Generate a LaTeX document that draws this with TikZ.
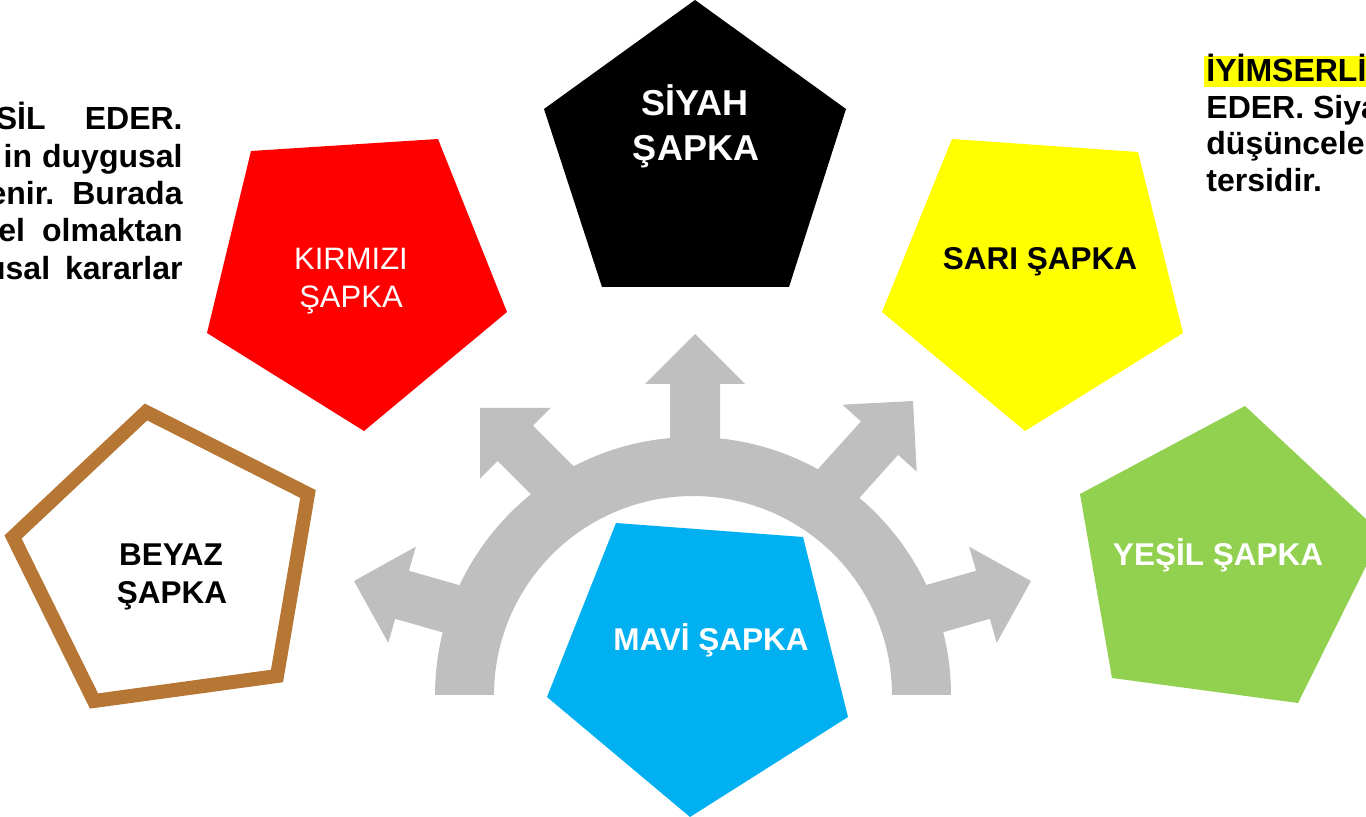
\documentclass[tikz,border=0pt]{standalone}
\usepackage{fontspec}
\setmainfont{Liberation Sans}
\definecolor{ringgray}{HTML}{BFBFBF}
\definecolor{hatred}{HTML}{FF0000}
\definecolor{hatyellow}{HTML}{FFFF00}
\definecolor{hatgreen}{HTML}{92D050}
\definecolor{hatblue}{HTML}{00B0F0}
\definecolor{hatbrown}{HTML}{B67634}
\begin{document}
\begin{tikzpicture}[x=0.5pt,y=-0.5pt,
  hattext/.style={inner sep=0pt,anchor=base,font=\bfseries\fontsize{15.75}{19}\selectfont},
  bodytext/.style={inner sep=0pt,font=\bfseries\fontsize{16}{19}\selectfont},
  hatarrow/.pic={\fill[ringgray] (0,0) -- (-50,50) -- (-50,25) -- (-150,25)
      -- (-150,-25) -- (-50,-25) -- (-50,-50) -- cycle;}]
\useasboundingbox (0,0) rectangle (1366,817);
\clip (0,0) rectangle (1366,817);

% gray half ring with its five arrows
\fill[ringgray] plot[domain=180:360,samples=91] ({693+258*cos(\x)},{695+258*sin(\x)})
  -- plot[domain=360:180,samples=91] ({693+199*cos(\x)},{695+199*sin(\x)}) -- cycle;
\pic[rotate=90]  at (695,334) {hatarrow};
\pic[rotate=135] at (480,408) {hatarrow};
\pic[rotate=48]  at (913,401) {hatarrow};
\pic[rotate=164] at (354,581) {hatarrow};
\pic[rotate=16]  at (1031,581) {hatarrow};

% the six hats
\fill[black]     (695,0) -- (846,109) -- (789,287) -- (602,287) -- (544,109) -- cycle;
\fill[hatred]    (251,151) -- (438,139) -- (507,312) -- (364,431) -- (207,333) -- cycle;
\fill[hatyellow] (952,139) -- (1138,152) -- (1183,333) -- (1025,431) -- (882,312) -- cycle;
\fill[hatgreen]  (1245,406) -- (1382,534) -- (1298,703) -- (1112,678) -- (1080,494) -- cycle;
\fill[hatblue]   (616,523) -- (803,537) -- (848,717) -- (690,817) -- (547,697) -- cycle;
\draw[hatbrown,line width=7pt,line join=miter]
  (146,412) -- (308,494) -- (277,676) -- (94,701) -- (13,537) -- cycle;

% hat labels
\node[hattext,white,font=\bfseries\fontsize{18}{21}\selectfont] (siyah1) at (695,116) {SİYAH};
\node[hattext,white,font=\bfseries\fontsize{18}{21}\selectfont] (siyah2) at (696,161) {ŞAPKA};
\node[hattext,white,font=\fontsize{15.5}{19}\selectfont] (kirmizi1) at (351,270) {KIRMIZI};
\node[hattext,white,font=\fontsize{15.5}{19}\selectfont] (kirmizi2) at (351,308) {ŞAPKA};
\node[hattext] (sari) at (1040,270) {SARI ŞAPKA};
\node[hattext,white] (yesil) at (1218,566) {YEŞİL ŞAPKA};
\node[hattext,white] (mavi) at (711,651) {MAVİ ŞAPKA};
\node[hattext] (beyaz1) at (171,566) {BEYAZ};
\node[hattext] (beyaz2) at (172,604) {ŞAPKA};

% left description block
\node[bodytext,anchor=base east] (l1a) at (46,130) {SİL};
\node[bodytext,anchor=base east] (l1b) at (183,130) {EDER.};
\node[bodytext,anchor=base east] (l2) at (183,168) {in\hspace{5pt}duygusal};
\node[bodytext,anchor=base east] (l3) at (183,205) {enir.\hspace{9pt}Burada};
\node[bodytext,anchor=base east] (l4) at (183,242) {el\hspace{8.5pt}olmaktan};
\node[bodytext,anchor=base east] (l5) at (183,280) {usal\hspace{7.5pt}kararlar};

% right description block
\fill[hatyellow] (1204,56) rectangle (1366,87);
\node[bodytext,anchor=base west] (r1) at (1206,82) {İYİMSERLİ};
\node[bodytext,anchor=base west] (r2) at (1206,119) {EDER. Siya};
\node[bodytext,anchor=base west] (r3) at (1206,155) {düşünceler};
\node[bodytext,anchor=base west] (r4) at (1206,192) {tersidir.};
\end{tikzpicture}
\end{document}
